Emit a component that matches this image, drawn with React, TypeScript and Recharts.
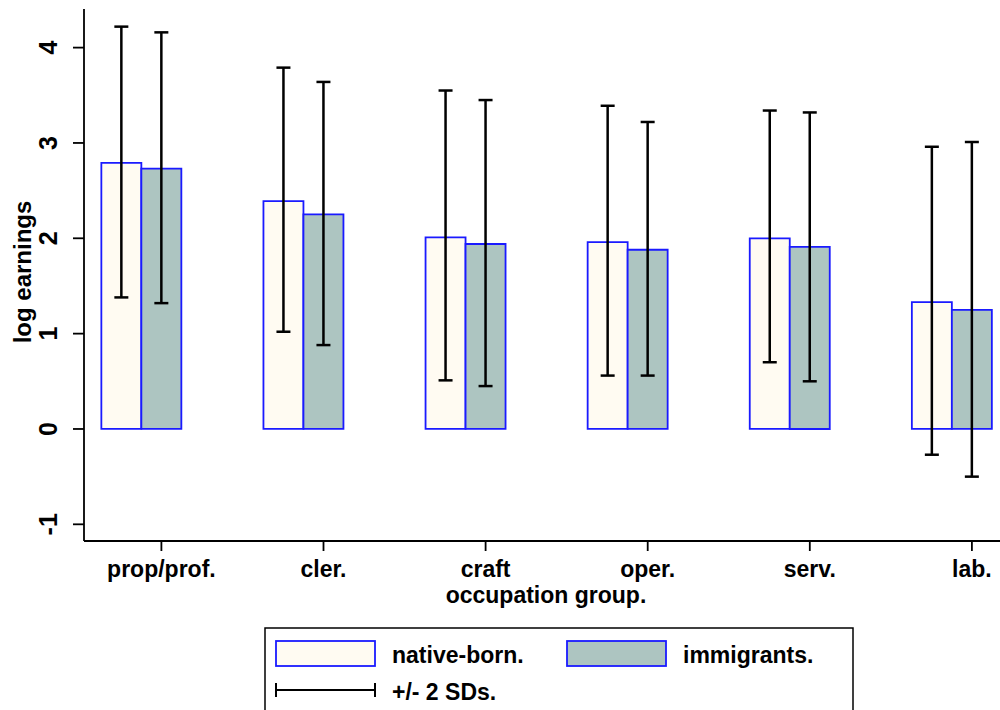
import React from 'react';
import { BarChart, Bar, XAxis, YAxis, ErrorBar } from 'recharts';

const categories = ['prop/prof.', 'cler.', 'craft', 'oper.', 'serv.', 'lab.'];
const nativeMean = [2.79, 2.39, 2.01, 1.96, 2.0, 1.33];
const nativeHigh = [4.22, 3.79, 3.55, 3.39, 3.34, 2.96];
const nativeLow = [1.38, 1.02, 0.51, 0.56, 0.7, -0.27];
const immMean = [2.73, 2.25, 1.94, 1.88, 1.91, 1.25];
const immHigh = [4.16, 3.64, 3.45, 3.22, 3.32, 3.01];
const immLow = [1.32, 0.88, 0.45, 0.56, 0.5, -0.5];
const yTicks = [-1, 0, 1, 2, 3, 4];

const data = categories.map((c, i) => ({
  x: i,
  name: c,
  native: nativeMean[i],
  immigrants: immMean[i],
  nErr: [nativeMean[i] - nativeLow[i], nativeHigh[i] - nativeMean[i]],
  iErr: [immMean[i] - immLow[i], immHigh[i] - immMean[i]],
}));

const FONT = '"Liberation Sans", Arial, Helvetica, sans-serif';
const NATIVE_FILL = '#FFFBF2';
const IMM_FILL = '#ADC5C1';
const BAR_STROKE = '#1A1AFF';
const TICK_OFFSET = 20 / 162.1;
const xTicks = categories.map((_, i) => i + TICK_OFFSET);

const XTick = (props: any) => {
  const { x, y, payload } = props;
  const idx = Math.round(payload.value - TICK_OFFSET);
  return (
    <text x={x} y={y + 26} textAnchor="middle" fontFamily={FONT} fontWeight="bold" fontSize={23} fill="#000">
      {categories[idx]}
    </text>
  );
};

const YTick = (props: any) => {
  const { x, y, payload } = props;
  const cx = x - 25;
  return (
    <text
      x={cx}
      y={y}
      transform={`rotate(-90, ${cx}, ${y})`}
      textAnchor="middle"
      dy="0.36em"
      fontFamily={FONT}
      fontWeight="bold"
      fontSize={25}
      fill="#000"
    >
      {payload.value}
    </text>
  );
};

const Legendbox = () => (
  <svg width={1000} height={710} style={{ position: 'absolute', left: 0, top: 0, pointerEvents: 'none' }}>
    <rect x={265} y={628} width={588} height={100} fill="#fff" stroke="#000" strokeWidth={1.5} />
    <rect x={276} y={641} width={99} height={25} fill={NATIVE_FILL} stroke={BAR_STROKE} strokeWidth={1.8} />
    <text x={392} y={663} fontFamily={FONT} fontWeight="bold" fontSize={23} fill="#000">native-born.</text>
    <rect x={567} y={641} width={99} height={25} fill={IMM_FILL} stroke={BAR_STROKE} strokeWidth={1.8} />
    <text x={683} y={663} fontFamily={FONT} fontWeight="bold" fontSize={23} fill="#000">immigrants.</text>
    <line x1={276} x2={375} y1={690} y2={690} stroke="#000" strokeWidth={2} />
    <line x1={276} x2={276} y1={683} y2={697} stroke="#000" strokeWidth={2} />
    <line x1={375} x2={375} y1={683} y2={697} stroke="#000" strokeWidth={2} />
    <text x={392} y={700} fontFamily={FONT} fontWeight="bold" fontSize={23} fill="#000">+/- 2 SDs.</text>
  </svg>
);

export default function App() {
  return (
    <div style={{ position: 'absolute', left: 0, top: 0, width: 1000, height: 710, background: '#fff', overflow: 'hidden' }}>
      <BarChart
        width={1000}
        height={710}
        data={data}
        margin={{ top: 9, right: 0, bottom: 0, left: 0 }}
        barGap={0}
      >
        <XAxis
          dataKey="x"
          type="number"
          domain={[-0.3541, 5.2967]}
          allowDataOverflow
          ticks={xTicks}
          interval={0}
          tick={<XTick />}
          tickSize={10}
          tickMargin={0}
          axisLine={{ stroke: '#000', strokeWidth: 1.8 }}
          tickLine={{ stroke: '#000', strokeWidth: 1.8 }}
          height={169}
          label={{
            content: (p: any) => {
              const vb = p.viewBox;
              return (
                <text x={vb.x + vb.width / 2 + 4} y={603} textAnchor="middle" fontFamily={FONT} fontWeight="bold" fontSize={23} fill="#000">
                  occupation group.
                </text>
              );
            },
          }}
        />
        <YAxis
          type="number"
          domain={[-1.175, 4.405]}
          allowDataOverflow
          ticks={yTicks}
          interval={0}
          width={84}
          tick={<YTick />}
          tickSize={11}
          tickMargin={0}
          axisLine={{ stroke: '#000', strokeWidth: 1.8 }}
          tickLine={{ stroke: '#000', strokeWidth: 1.8 }}
          label={{
            content: (p: any) => {
              const vb = p.viewBox;
              const cy = vb.y + vb.height / 2 - 3;
              return (
                <text
                  x={22}
                  y={cy}
                  transform={`rotate(-90, 22, ${cy})`}
                  textAnchor="middle"
                  dy="0.36em"
                  fontFamily={FONT}
                  fontWeight="bold"
                  fontSize={24}
                  fill="#000"
                >
                  log earnings
                </text>
              );
            },
          }}
        />
        <Bar dataKey="native" barSize={40} fill={NATIVE_FILL} stroke={BAR_STROKE} strokeWidth={1.8} isAnimationActive={false}>
          <ErrorBar dataKey="nErr" width={7} stroke="#000" strokeWidth={2.5} direction="y" />
        </Bar>
        <Bar dataKey="immigrants" barSize={40} fill={IMM_FILL} stroke={BAR_STROKE} strokeWidth={1.8} isAnimationActive={false}>
          <ErrorBar dataKey="iErr" width={7} stroke="#000" strokeWidth={2.5} direction="y" />
        </Bar>
      </BarChart>
      <Legendbox />
    </div>
  );
}
